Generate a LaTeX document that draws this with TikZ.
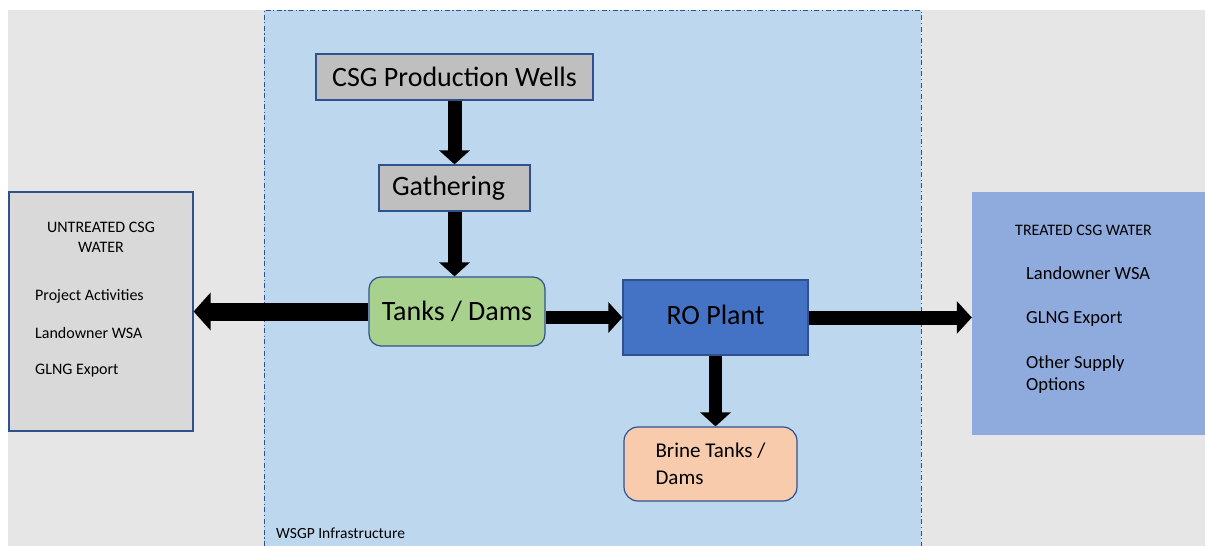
\documentclass[tikz,border=0pt]{standalone}
\usepackage{fontspec}
\setmainfont{Carlito}
\usetikzlibrary{arrows.meta}
\definecolor{bggrey}{HTML}{E7E6E6}
\definecolor{infra}{HTML}{BDD7EE}
\definecolor{edge}{HTML}{2F528F}
\definecolor{boxgrey}{HTML}{BFBFBF}
\definecolor{lightgrey}{HTML}{D9D9D9}
\definecolor{tankgreen}{HTML}{A9D18E}
\definecolor{roblue}{HTML}{4472C4}
\definecolor{brine}{HTML}{F8CBAD}
\definecolor{treated}{HTML}{8FAADC}
\tikzset{
  flowbox/.style={draw=edge, line width=1.2pt, inner sep=0pt, font=\fontsize{28}{32}\selectfont},
  greybox/.style={flowbox, fill=boxgrey},
  fatarrow/.style={line width=14pt, -{Triangle[length=14pt,width=30pt]}},
  bigarrow/.style={line width=18pt, -{Triangle[length=17pt,width=37pt]}},
  smalltext/.style={font=\fontsize{16}{20}\selectfont, inner sep=0pt},
  midtext/.style={font=\fontsize{18.5}{22}\selectfont, inner sep=0pt},
}
\begin{document}
\begin{tikzpicture}[x=1pt,y=-1pt]
\useasboundingbox (0,0) rectangle (1205,546);
% backgrounds
\fill[bggrey] (8,10) rectangle (1205,546);
\fill[infra] (264,10) rectangle (921,546);
\draw[edge, line width=1pt, dash pattern=on 5pt off 2.5pt on 1.2pt off 2.5pt]
  (264,546) -- (264,10) -- (921,10) -- (921,546);
\node[smalltext, font=\fontsize{15.5}{18}\selectfont, anchor=west] (infralabel) at (276,533) {WSGP Infrastructure};

% nodes
\node[greybox, minimum width=277pt, minimum height=46pt] (wells) at (454.5,77) {CSG Production Wells};
\node[greybox, minimum width=151pt, minimum height=46pt] (gath) at (454.5,188) {Gathering\hspace*{12pt}};
\node[flowbox, fill=tankgreen, rounded corners=12pt, minimum width=176pt, minimum height=69pt] (tanks) at (457,311.5) {Tanks / Dams};
\node[flowbox, fill=roblue, minimum width=185pt, minimum height=75pt] (ro) at (715.5,317.5) {\raisebox{5pt}{RO Plant}};
\node[flowbox, fill=brine, rounded corners=14pt, minimum width=173pt, minimum height=74pt,
      font=\fontsize{21}{27}\selectfont, align=left] (brine) at (710.5,464) {Brine Tanks /\\Dams\hspace*{10pt}\phantom{x}};

\node[draw=edge, line width=1.2pt, fill=lightgrey, minimum width=184pt, minimum height=239pt, inner sep=0pt] (untreated) at (101,311.5) {};
\node[smalltext, align=center] (untitle) at (101,237) {UNTREATED CSG\\WATER};
\node[smalltext, anchor=west] (u1) at (35,296) {Project Activities};
\node[smalltext, anchor=west] (u2) at (35,333) {Landowner WSA};
\node[smalltext, anchor=west] (u3) at (35,371) {GLNG Export};

\node[fill=treated, minimum width=233pt, minimum height=243pt, inner sep=0pt] (treated) at (1088.5,313.5) {};
\node[smalltext, anchor=west] (trtitle) at (1015,230) {TREATED CSG WATER};
\node[midtext, anchor=west] (t1) at (1026,273) {Landowner WSA};
\node[midtext, anchor=west] (t2) at (1026,319) {GLNG Export};
\node[midtext, anchor=west, align=left] (t3) at (1026,375) {Other Supply\\Options};

% arrows
\draw[fatarrow] (wells.south) -- (gath.north);
\draw[fatarrow] (gath.south) -- (gath.south |- tanks.north);
\draw[bigarrow] (tanks.west) -- (tanks.west -| untreated.east);
\draw[fatarrow, line width=13pt] (tanks.east |- ro.west) -- (ro.west);
\draw[fatarrow, line width=14pt, -{Triangle[length=15pt,width=32pt]}] (ro.east) -- (ro.east -| treated.west);
\draw[fatarrow, line width=13pt] (ro.south) -- (ro.south |- brine.north);
\end{tikzpicture}
\end{document}
